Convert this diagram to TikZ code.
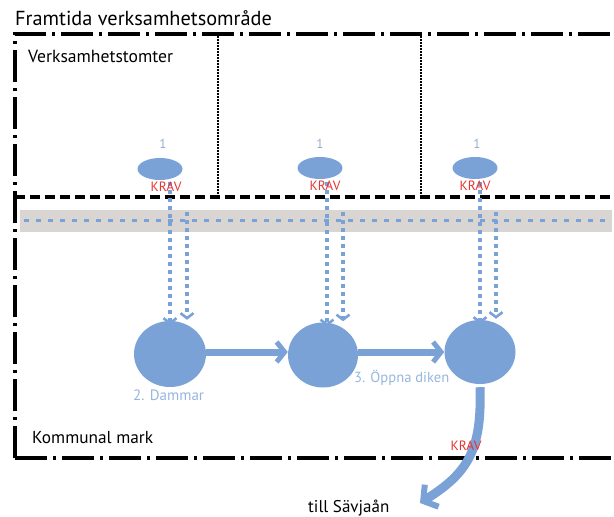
\documentclass[tikz,border=0pt]{standalone}
\usepackage{fontspec}
\setmainfont{PT Sans}
\usetikzlibrary{arrows.meta,shapes.geometric}
\definecolor{flow}{RGB}{122,162,214}
\definecolor{lbl}{RGB}{150,182,222}
\definecolor{one}{RGB}{150,170,200}
\definecolor{band}{RGB}{216,213,211}
\definecolor{krav}{RGB}{232,50,50}
\tikzset{
  frame/.style={line width=3.8pt,dash pattern=on 32pt off 6pt on 3pt off 6pt},
  sep/.style={line width=3.6pt,dash pattern=on 10pt off 5pt},
  plot/.style={line width=1.5pt,dash pattern=on 1.5pt off 1.5pt},
  pond/.style={ellipse,fill=flow,inner sep=0pt},
  src/.style={ellipse,fill=flow,minimum width=45pt,minimum height=22pt,inner sep=0pt},
  kravl/.style={text=krav,font=\fontsize{13.5}{13.5}\selectfont,inner sep=0pt},
  onel/.style={text=one,font=\fontsize{13}{13}\selectfont,inner sep=0pt},
  drip/.style={flow,line width=3.5pt,dash pattern=on 4pt off 4pt,-{Straight Barb[length=5pt,width=13pt,line width=2.6pt]}},
  flowarrow/.style={flow,line width=7pt,-{Straight Barb[length=8pt,width=20pt,line width=5pt]}},
  outarrow/.style={flow,line width=9pt,-{Straight Barb[length=10pt,width=26pt,line width=6pt]}},
}
\begin{document}
\begin{tikzpicture}[x=1pt,y=-1pt]
\useasboundingbox (0,0) rectangle (614,517);
% band
\fill[band] (20,210) rectangle (612,232);
\draw[flow,line width=3pt,dash pattern=on 5pt off 7pt] (24,220) -- (610,220);
% frame
\draw[frame] (15,458) -- (15,34) -- (620,34);
\draw[frame] (15,458) -- (620,458);
\draw[sep] (15,197) -- (620,197);
\draw[plot] (218,36) -- (218,195);
\draw[plot] (421,36) -- (421,195);
% texts
\node[anchor=base west,inner sep=0pt,font=\fontsize{20.3}{20.3}\selectfont] (title) at (15,25) {Framtida verksamhetsområde};
\node[anchor=base west,inner sep=0pt,font=\fontsize{17.6}{17.6}\selectfont] (vt) at (28,62) {Verksamhetstomter};
\node[anchor=base west,inner sep=0pt,font=\fontsize{17.3}{17.3}\selectfont] (km) at (32,443) {Kommunal mark};
\node[anchor=base west,inner sep=0pt,font=\fontsize{17}{17}\selectfont] (till) at (308,512) {till Sävjaån};
% sources
\node[src] (s1) at (160,169) {};
\node[src] (s2) at (320,168) {};
\node[src] (s3) at (475,168) {};
\node[onel] (o1) at (163,144) {1};
\node[onel] (o2) at (320,144) {1};
\node[onel] (o3) at (477,144) {1};
% ponds
\node[pond,minimum width=72pt,minimum height=66pt] (p1) at (170,354) {};
\node[pond,minimum width=70pt,minimum height=65pt] (p2) at (323,355) {};
\node[pond,minimum width=71pt,minimum height=64pt] (p3) at (480,352) {};
% drip lines
\coordinate (a1) at (170,182); \coordinate (b1) at (187,212);
\coordinate (a2) at (327,182); \coordinate (b2) at (343,212);
\coordinate (a3) at (480,182); \coordinate (b3) at (496,212);
\draw[drip] (a1) -- ([yshift=-4pt]a1 |- p1.north);
\draw[drip] (b1) -- ([yshift=1pt]b1 |- p1.north);
\draw[drip] (a2) -- ([yshift=-4pt]a2 |- p2.north);
\draw[drip] (b2) -- ([yshift=1pt]b2 |- p2.north);
\draw[drip] (a3) -- ([yshift=-4pt]a3 |- p3.north);
\draw[drip] (b3) -- ([yshift=1pt]b3 |- p3.north);
% KRAV
\node[kravl] (k1) at (166,187) {KRAV};
\node[kravl] (k2) at (325,186) {KRAV};
\node[kravl] (k3) at (475,186) {KRAV};
% flow arrows
\draw[flowarrow] (p1.east |- 0,352) -- (p2.west |- 0,352);
\draw[flowarrow] (p2.east |- 0,352) -- (p3.west);
\coordinate (out) at (420,503);
\draw[outarrow] ([yshift=-3pt]p3.south) .. controls (482,450) and (468,473) .. (out);
\node[kravl] (k4) at (466,446) {KRAV};
% labels
\node[anchor=base west,text=lbl,font=\fontsize{15}{15}\selectfont,inner sep=0pt] (dam) at (133,400) {2. Dammar};
\node[anchor=base west,text=lbl,font=\fontsize{14.6}{14.6}\selectfont,inner sep=0pt] (dik) at (354,382) {3. Öppna diken};
\end{tikzpicture}
\end{document}
